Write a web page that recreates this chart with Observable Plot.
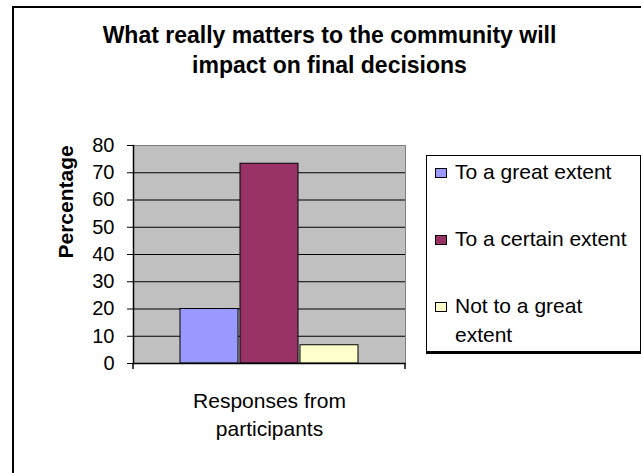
<!DOCTYPE html>
<html><head><meta charset="utf-8">
<script src="https://cdn.jsdelivr.net/npm/d3@7"></script>
<script src="https://cdn.jsdelivr.net/npm/@observablehq/plot@0.6"></script>
<style>
html,body{margin:0;padding:0;background:#fff;overflow:hidden;}
#wrap{position:relative;width:641px;height:473px;overflow:hidden;font-family:"Liberation Sans",Arial,sans-serif;color:#000;}
#outer{position:absolute;left:12px;top:6px;width:700px;height:600px;border:2px solid #000;box-sizing:border-box;}
#title{position:absolute;left:94px;width:471px;top:20px;text-align:center;font-weight:bold;font-size:23px;line-height:30px;}
#chart{position:absolute;left:0;top:0;}
#legend{position:absolute;left:426px;top:155px;width:215px;height:197px;border:1px solid #000;box-sizing:border-box;background:#fff;box-shadow:0 2px 0 #000;padding-top:1px;}
.item{position:relative;padding-left:28px;font-size:21px;line-height:29px;width:183px;margin-bottom:38px;}
.sw{position:absolute;left:8px;top:11px;width:12px;height:10px;border:1px solid #000;box-sizing:border-box;}
</style>
</head>
<body>
<div id="wrap">
  <div id="outer"></div>
  <div id="chart"></div>
  <div id="title"></div>
  <div id="legend"></div>
</div>
<script>
const titleText = "What really matters to the community will impact on final decisions";
const categories = ["Responses from participants"];
const series = ["To a great extent", "To a certain extent", "Not to a great extent"];
const values = [20, 73.3, 6.7];
const colors = ["#9999FF", "#993366", "#FFFFCC"];
const yTicks = [0, 10, 20, 30, 40, 50, 60, 70, 80];
const yLabel = "Percentage";

const data = series.map((s, i) => ({category: categories[0], series: s, value: values[i]}));

// category boundary tick marks below the x axis (at the frame's left and right edges)
function categoryEdgeTicks(index, scales, values, dim) {
  const g = d3.create("svg:g").attr("stroke", "#000").attr("stroke-width", 1.5);
  const yb = dim.height - dim.marginBottom;
  [dim.marginLeft, dim.width - dim.marginRight].forEach(x => {
    g.append("line").attr("x1", x).attr("x2", x).attr("y1", yb).attr("y2", yb + 6);
  });
  return g.node();
}

const chart = Plot.plot({
  width: 641,
  height: 473,
  marginLeft: 133,
  marginRight: 236,
  marginTop: 145,
  marginBottom: 110,
  style: {fontFamily: "Liberation Sans, Arial, sans-serif", fontSize: "20px", color: "#000", background: "transparent", overflow: "visible"},
  x: {domain: series, paddingInner: 0.03, paddingOuter: 0.76, axis: null},
  y: {domain: [0, 80], ticks: yTicks, axis: null},
  color: {domain: series, range: colors},
  marks: [
    Plot.frame({fill: "#c0c0c0", stroke: null}),
    Plot.gridY(yTicks, {stroke: "#000", strokeOpacity: 1}),
    Plot.barY(data, {x: "series", y: "value", fill: "series", stroke: "#000", strokeWidth: 1}),
    Plot.frame({stroke: "#808080"}),
    Plot.ruleY([0], {stroke: "#000", strokeWidth: 1.5}),
    Plot.frame({anchor: "left", stroke: "#000", strokeWidth: 1.5}),
    categoryEdgeTicks,
    Plot.axisY(yTicks, {tickSize: 6, tickPadding: 13, label: null, fontSize: 20}),
    Plot.text([yLabel], {frameAnchor: "left", rotate: -90, dx: -67, dy: 4, fontWeight: "bold", fontSize: 21}),
    Plot.text(categories, {frameAnchor: "bottom", dy: 25, lineAnchor: "top", lineWidth: 9, lineHeight: 1.33, fontSize: 21})
  ]
});
document.getElementById("chart").appendChild(chart);

document.getElementById("title").textContent = titleText;

const legend = d3.select("#legend");
series.forEach((s, i) => {
  const item = legend.append("div").attr("class", "item");
  item.append("span").attr("class", "sw").style("background", colors[i]);
  item.append("span").text(s);
});
</script>
</body></html>
